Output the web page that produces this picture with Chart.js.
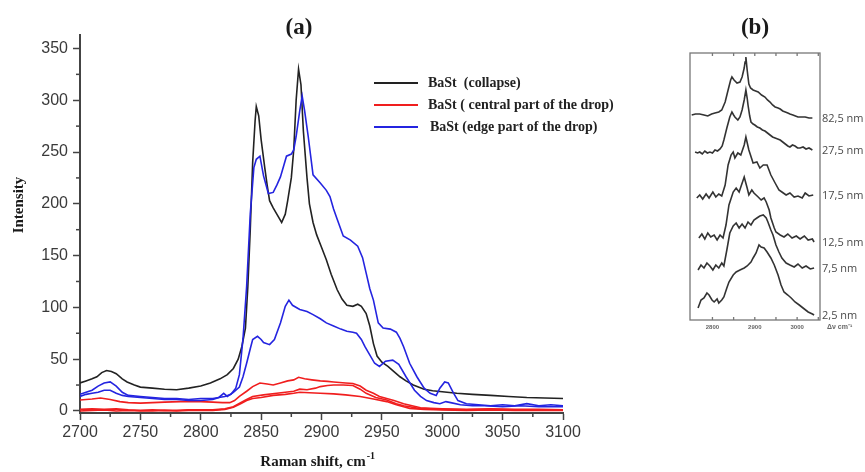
<!DOCTYPE html>
<html>
<head>
<meta charset="utf-8">
<script src="https://cdn.jsdelivr.net/npm/chart.js@4.4.1/dist/chart.umd.min.js"></script>
<style>
  html, body { margin: 0; padding: 0; background: #fff; }
  #wrap { position: relative; width: 865px; height: 472px; }
  #chart-a { position: absolute; left: 0; top: 0; }
  #chart-b { position: absolute; left: 680px; top: 0; }
</style>
</head>
<body>
<div id="wrap">
  <canvas id="chart-a" width="680" height="472"></canvas>
  <canvas id="chart-b" width="185" height="472"></canvas>
</div>
<script>
// ---- panel (a): Raman spectra, [wavenumber, intensity] ----
const xTicksA = [2700, 2750, 2800, 2850, 2900, 2950, 3000, 3050, 3100];
const yTicksA = [0, 50, 100, 150, 200, 250, 300, 350];

const collapse = [[2700,27],[2705,29],[2710,31],[2714,33],[2718,37],[2722,39],[2726,38],[2730,36],[2735,31],[2739,28],[2745,25],[2750,23],[2760,22],[2770,21],[2780,20.5],[2790,22],[2800,24],[2808,27],[2816,31],[2822,35],[2827,41],[2831,50],[2834,62],[2837,80],[2839,120],[2841,175],[2843,240],[2845,280],[2846,294],[2848,285],[2850,262],[2853,235],[2855,218],[2857,203],[2860,196],[2863,190],[2867,182],[2870,190],[2872,203],[2875,225],[2877,252],[2879,300],[2881,330],[2883,315],[2885,270],[2888,225],[2890,200],[2893,182],[2896,170],[2900,158],[2904,146],[2908,132],[2913,117],[2917,108],[2921,102],[2926,101],[2930,103],[2933,101],[2937,94],[2940,82],[2943,65],[2946,53],[2950,47],[2955,43],[2960,38],[2965,33],[2970,29],[2976,25],[2985,21],[2992,19.5],[3000,18.5],[3012,17],[3025,16],[3040,15],[3055,14],[3070,13],[3085,12.5],[3100,12]];

const centralA = [[2700,10.5],[2710,11.5],[2717,12.5],[2725,11],[2733,9],[2740,8],[2750,7.5],[2760,8],[2770,8.5],[2783,9],[2800,9],[2810,8.5],[2818,8],[2824,8],[2828,10],[2832,14],[2838,19],[2843,23.5],[2849,27],[2855,26],[2860,25],[2866,27],[2872,29],[2877,30],[2881,32.5],[2886,31],[2892,30],[2899,29],[2905,28.5],[2910,28],[2915,27.5],[2920,27],[2926,26.5],[2932,24],[2937,20],[2943,17],[2948,14],[2954,12],[2960,10],[2968,7],[2975,5],[2982,3],[2990,2.5],[3000,2],[3020,1.5],[3040,2],[3060,1.5],[3080,1.5],[3100,1]];
const centralB = [[2700,1.5],[2710,2],[2720,1.5],[2730,2],[2740,1],[2750,0.5],[2760,1],[2770,0.5],[2780,0.5],[2790,1],[2800,1],[2810,1],[2820,2],[2827,4],[2833,8],[2838,11],[2843,14],[2852,15.5],[2863,17],[2870,18],[2877,19],[2882,21],[2888,20.5],[2895,22],[2899,23.5],[2905,24.5],[2910,25],[2918,25],[2926,24.5],[2932,21],[2937,17],[2945,13],[2954,10.5],[2962,7],[2968,5],[2973,4],[2980,2.5],[2990,2],[3000,1.5],[3020,1],[3040,1.5],[3060,1],[3080,1],[3100,1]];
const centralC = [[2700,0],[2710,0.5],[2720,1],[2730,0],[2740,0.5],[2750,0],[2760,0],[2770,0.5],[2780,0],[2790,0.5],[2800,0.5],[2810,0.5],[2820,1.5],[2827,3.5],[2833,7],[2838,10],[2843,12],[2850,13],[2860,15],[2870,16],[2877,17],[2882,18],[2890,17.5],[2899,17],[2910,16.5],[2920,15.5],[2932,14],[2943,11.5],[2954,9],[2962,6],[2968,4],[2973,2.5],[2985,1.5],[3000,1],[3020,0.5],[3040,1],[3060,0.5],[3080,0.5],[3100,0.5]];

const edgeA = [[2700,16],[2705,18],[2710,20],[2715,24],[2720,27],[2725,28],[2730,24],[2735,18],[2740,15],[2750,14],[2760,13],[2770,12],[2780,12],[2790,11],[2800,12],[2810,12],[2815,13],[2820,14],[2825,16],[2829,22],[2832,35],[2835,70],[2838,120],[2841,190],[2844,235],[2846,243],[2849,246],[2852,227],[2856,210],[2860,211],[2863,218],[2866,226],[2869,238],[2871,246],[2875,248],[2877,252],[2879,265],[2882,290],[2884,304],[2886,290],[2889,265],[2893,228],[2899,220],[2904,213],[2907,207],[2910,195],[2913,185],[2918,169],[2924,165],[2930,159],[2934,148],[2937,133],[2940,118],[2943,107],[2947,85],[2951,80],[2957,79],[2962,76],[2965,70],[2968,62],[2973,46],[2979,33],[2985,22],[2990,17],[2995,15],[2998,22],[3002,28],[3005,27],[3009,18],[3013,10],[3020,7],[3030,6],[3040,5],[3050,6],[3060,5],[3070,7],[3080,5],[3090,6],[3100,5]];
const edgeB = [[2700,14],[2705,16],[2710,17],[2715,18],[2720,20],[2725,20],[2730,17],[2735,15],[2740,14],[2750,13],[2760,12],[2770,11],[2780,11],[2790,10],[2800,10],[2810,11],[2815,13],[2819,17],[2822,14],[2827,18],[2832,23],[2835,33],[2838,46],[2841,60],[2843,69],[2847,72],[2850,69],[2852,66],[2857,64],[2861,69],[2866,85],[2870,101],[2873,107],[2876,102],[2882,98],[2888,96],[2893,93],[2899,89],[2904,85],[2910,82],[2916,79],[2921,77],[2926,76],[2929,75],[2933,69],[2936,62],[2939,56],[2944,46],[2948,43],[2953,48],[2959,49],[2964,45],[2970,33],[2977,20],[2982,14],[2987,10],[2993,8],[2998,7],[3003,9],[3007,8],[3015,6],[3025,5],[3035,5],[3050,4],[3065,5],[3080,4],[3100,4]];

const legendLabels = ["BaSt  (collapse)", "BaSt ( central part of the drop)", "BaSt (edge part of the drop)"];
const legendColors = ["#222222", "#f01e1e", "#2424e0"];

// ---- panel (b): spectra vs film thickness (offset, a.u.) ----
const xTicksB = [2800, 2850, 2900, 2950, 3000, 3050];
const xLabelsB = [2800, 2900, 3000];
const thicknessLabels = ["82,5 nm", "27,5 nm", "17,5 nm", "12,5 nm", "7,5 nm", "2,5 nm"];

const s825 = [[2751,205],[2760,206],[2770,206],[2780,205],[2789,204],[2798,206],[2806,207],[2815,208],[2822,210],[2830,218],[2837,230],[2843,240],[2846,243],[2851,240],[2858,237],[2865,238],[2870,243],[2875,252],[2877,258],[2879,263],[2882,250],[2886,236],[2890,232],[2896,230],[2902,229],[2908,228],[2916,225],[2924,223],[2930,220],[2936,218],[2942,215],[2948,213],[2955,212],[2960,211],[2966,209],[2972,208],[2978,207],[2983,206],[2990,205],[2996,204],[3002,203],[3010,203],[3019,203],[3028,202],[3036,202]];
const s275 = [[2759,168],[2765,167],[2770,168],[2776,166],[2782,169],[2788,167],[2794,168],[2800,167],[2806,170],[2812,169],[2818,171],[2823,174],[2827,180],[2834,192],[2841,203],[2846,208],[2850,205],[2853,203],[2860,200],[2865,203],[2870,210],[2875,220],[2879,230],[2882,222],[2884,215],[2888,204],[2891,198],[2896,196],[2900,195],[2906,193],[2912,192],[2918,190],[2924,189],[2930,187],[2936,185],[2942,183],[2948,182],[2954,181],[2960,180],[2966,178],[2972,176],[2978,174],[2983,173],[2989,175],[2995,174],[3001,172],[3007,172],[3014,173],[3021,171],[3028,172],[3036,170]];
const s175 = [[2763,122],[2770,125],[2777,121],[2785,126],[2792,122],[2801,128],[2808,123],[2815,126],[2822,124],[2830,135],[2837,155],[2844,165],[2849,168],[2853,162],[2860,167],[2867,165],[2875,175],[2879,183],[2886,170],[2896,157],[2905,158],[2912,152],[2920,155],[2929,155],[2938,145],[2948,137],[2957,130],[2964,128],[2974,125],[2983,127],[2993,123],[3002,124],[3012,122],[3019,127],[3028,124],[3038,125]];
const s125 = [[2768,82],[2775,86],[2782,81],[2789,87],[2796,83],[2804,85],[2811,80],[2818,85],[2825,82],[2832,95],[2839,115],[2849,128],[2856,132],[2863,128],[2867,133],[2875,143],[2882,132],[2886,125],[2893,130],[2898,127],[2908,123],[2915,120],[2922,122],[2927,118],[2934,110],[2938,102],[2946,92],[2950,88],[2960,85],[2969,83],[2978,86],[2988,82],[2998,84],[3007,81],[3017,84],[3026,80],[3036,81],[3040,78]];
const s75 = [[2766,50],[2773,55],[2780,52],[2787,57],[2794,54],[2801,50],[2808,55],[2815,52],[2822,57],[2827,54],[2834,70],[2841,87],[2849,94],[2856,97],[2863,92],[2870,96],[2877,92],[2884,98],[2891,95],[2898,100],[2905,102],[2912,104],[2920,105],[2927,102],[2931,98],[2938,90],[2943,85],[2950,75],[2957,68],[2964,62],[2974,57],[2983,55],[2993,53],[3002,56],[3012,52],[3021,54],[3031,51],[3040,52]];
const s25 = [[2766,12],[2773,20],[2780,22],[2787,27],[2792,25],[2799,20],[2804,18],[2811,21],[2815,17],[2822,20],[2827,23],[2834,32],[2839,38],[2849,45],[2856,48],[2865,50],[2875,52],[2882,54],[2891,58],[2896,62],[2903,67],[2910,75],[2915,73],[2922,72],[2929,68],[2938,62],[2946,55],[2955,45],[2962,35],[2969,28],[2978,25],[2986,22],[2995,18],[3005,15],[3014,12],[3026,8],[3036,6],[3040,5]];

const pts = (arr) => arr.map((p) => ({ x: p[0], y: p[1] }));
const serif = "'Liberation Serif', 'Times New Roman', serif";
const sans = "'Liberation Sans', Arial, sans-serif";
const axisColor = "#444";

// extra drawing for panel (a): minor ticks, titles, legend
const panelA = {
  id: "panelA",
  afterDraw(chart) {
    const ctx = chart.ctx;
    const xs = chart.scales.x, ys = chart.scales.y;
    const area = chart.chartArea;
    ctx.save();
    ctx.strokeStyle = axisColor;
    ctx.lineWidth = 1.5;
    // minor ticks, half way between the majors
    for (let v = 2725; v < 3100; v += 50) {
      const px = xs.getPixelForValue(v);
      ctx.beginPath(); ctx.moveTo(px, area.bottom); ctx.lineTo(px, area.bottom + 4); ctx.stroke();
    }
    for (let v = 25; v < 363; v += 50) {
      const py = ys.getPixelForValue(v);
      ctx.beginPath(); ctx.moveTo(area.left, py); ctx.lineTo(area.left - 4, py); ctx.stroke();
    }

    ctx.fillStyle = "#1a1a1a";
    ctx.textAlign = "center";
    ctx.textBaseline = "middle";
    ctx.font = "bold 23px " + serif;
    ctx.fillText("(a)", 299, 28);

    // y title
    ctx.save();
    ctx.translate(19, 205);
    ctx.rotate(-Math.PI / 2);
    ctx.font = "bold 15px " + serif;
    ctx.fillText("Intensity", 0, 0);
    ctx.restore();

    // x title with superscript
    ctx.textAlign = "left";
    ctx.font = "bold 15px " + serif;
    const main = "Raman shift, cm";
    const w = ctx.measureText(main).width;
    const x0 = 318 - (w + 10) / 2;
    ctx.fillText(main, x0, 462);
    ctx.font = "bold 10px " + serif;
    ctx.fillText("-1", x0 + w + 1, 456);

    // legend
    ctx.font = "bold 14px " + serif;
    legendLabels.forEach((lab, i) => {
      const y = 83 + i * 22;
      ctx.strokeStyle = legendColors[i];
      ctx.lineWidth = 2;
      ctx.beginPath(); ctx.moveTo(374, y); ctx.lineTo(418, y); ctx.stroke();
      ctx.fillStyle = "#222";
      ctx.fillText(lab, i === 2 ? 430 : 428, y);
    });
    ctx.restore();
  },
};

const lineSet = (data, color) => ({
  data: pts(data),
  borderColor: color,
  borderWidth: 1.6,
  pointRadius: 0,
  tension: 0,
  fill: false,
});

new Chart(document.getElementById("chart-a"), {
  type: "line",
  data: {
    datasets: [
      lineSet(edgeA, legendColors[2]),
      lineSet(edgeB, legendColors[2]),
      lineSet(collapse, legendColors[0]),
      lineSet(centralA, legendColors[1]),
      lineSet(centralB, legendColors[1]),
      lineSet(centralC, legendColors[1]),
    ],
  },
  options: {
    responsive: false,
    animation: false,
    devicePixelRatio: 1,
    layout: { padding: { top: 35, right: 117, left: 0, bottom: 0 } },
    plugins: { legend: { display: false }, tooltip: { enabled: false } },
    scales: {
      x: {
        type: "linear",
        min: 2700,
        max: 3100,
        afterBuildTicks: (s) => { s.ticks = xTicksA.map((v) => ({ value: v })); },
        afterFit: (s) => { s.height = 59; },
        grid: { drawOnChartArea: false, tickLength: 7, tickColor: axisColor, tickWidth: 1.5 },
        border: { color: axisColor, width: 2 },
        ticks: { font: { family: sans, size: 16 }, color: "#3a3a3a", padding: 3, maxRotation: 0, autoSkip: false, callback: (v) => String(v) },
      },
      y: {
        min: -2,
        max: 363,
        afterBuildTicks: (s) => { s.ticks = yTicksA.map((v) => ({ value: v })); },
        afterFit: (s) => { s.width = 80; },
        grid: { drawOnChartArea: false, tickLength: 7, tickColor: axisColor, tickWidth: 1.5 },
        border: { color: axisColor, width: 2 },
        ticks: { font: { family: sans, size: 16 }, color: "#3a3a3a", padding: 5, autoSkip: false, callback: (v) => String(v) },
      },
    },
  },
  plugins: [panelA],
});

// panel (b): frame, inner ticks, thickness labels
const panelB = {
  id: "panelB",
  afterDraw(chart) {
    const ctx = chart.ctx;
    const xs = chart.scales.x, ys = chart.scales.y;
    const a = chart.chartArea;
    ctx.save();
    ctx.strokeStyle = "#777";
    ctx.lineWidth = 1.3;
    ctx.strokeRect(a.left, a.top, a.right - a.left, a.bottom - a.top);
    xTicksB.forEach((v) => {
      const px = xs.getPixelForValue(v);
      ctx.beginPath(); ctx.moveTo(px, a.top); ctx.lineTo(px, a.top + 3); ctx.stroke();
      ctx.beginPath(); ctx.moveTo(px, a.bottom); ctx.lineTo(px, a.bottom - 3); ctx.stroke();
    });
    ctx.fillStyle = "#666";
    ctx.textAlign = "center";
    ctx.textBaseline = "middle";
    ctx.font = "bold 6px " + sans;
    xLabelsB.forEach((v) => ctx.fillText(String(v), xs.getPixelForValue(v), a.bottom + 7));
    ctx.textAlign = "left";
    ctx.font = "bold 7px " + sans;
    ctx.fillText("Δν cm⁻¹", a.right + 7, a.bottom + 7);

    ctx.fillStyle = "#4a4a4a";
    ctx.font = "11px 'Open Sans', 'Noto Sans', sans-serif";
    chart.data.datasets.forEach((ds, i) => {
      const last = ds.data[ds.data.length - 1];
      ctx.fillText(thicknessLabels[i], a.right + 2, ys.getPixelForValue(last.y) + 1);
    });

    ctx.fillStyle = "#1a1a1a";
    ctx.textAlign = "center";
    ctx.font = "bold 23px " + serif;
    ctx.fillText("(b)", 75, 28);
    ctx.restore();
  },
};

new Chart(document.getElementById("chart-b"), {
  type: "line",
  data: {
    datasets: [s825, s275, s175, s125, s75, s25].map((s) => lineSet(s, "#333")),
  },
  options: {
    responsive: false,
    animation: false,
    devicePixelRatio: 1,
    layout: { padding: { left: 10, right: 45, top: 53, bottom: 152 } },
    plugins: { legend: { display: false }, tooltip: { enabled: false } },
    elements: { line: { borderWidth: 1.2 } },
    scales: {
      x: { type: "linear", min: 2747, max: 3054, display: false },
      y: { min: 0, max: 267, display: false },
    },
  },
  plugins: [panelB],
});
</script>
</body>
</html>
